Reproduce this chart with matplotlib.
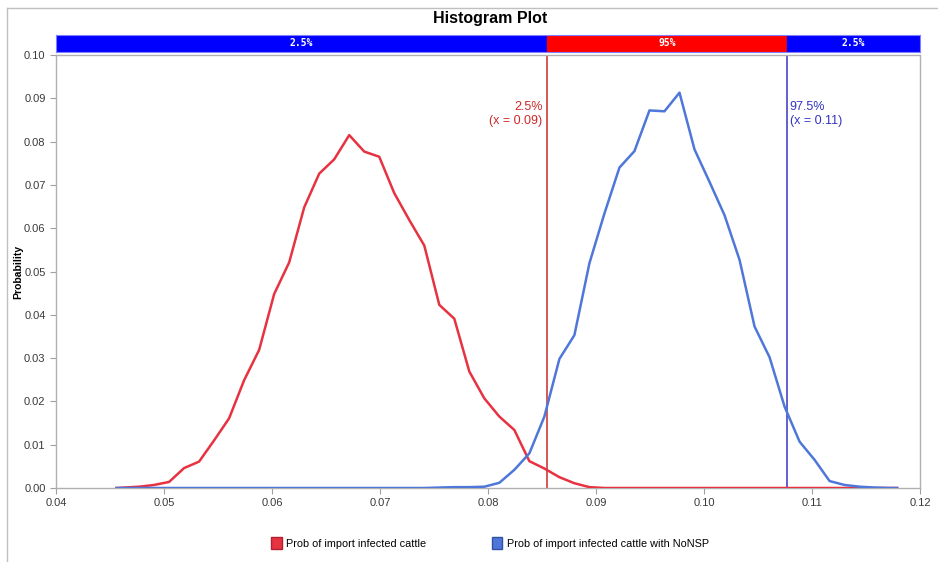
import matplotlib
matplotlib.use("Agg")
import matplotlib.pyplot as plt
from matplotlib.patches import Patch
from matplotlib.lines import Line2D

# ---- data ----
bin_x = [0.04560,
         0.04630, 0.04769, 0.04908, 0.05047, 0.05186, 0.05325, 0.05464, 0.05603,
         0.05742, 0.05881, 0.06020, 0.06159, 0.06298, 0.06437, 0.06576, 0.06715,
         0.06854, 0.06993, 0.07132, 0.07271, 0.07410, 0.07549, 0.07688, 0.07827,
         0.07966, 0.08105, 0.08244, 0.08383, 0.08522, 0.08661, 0.08800, 0.08939,
         0.09078, 0.09217, 0.09356, 0.09495, 0.09634, 0.09773, 0.09912, 0.10051,
         0.10190, 0.10329, 0.10468, 0.10607, 0.10746, 0.10885, 0.11024, 0.11163,
         0.11302, 0.11441, 0.11580, 0.11719,
         0.11788]

red_prob = [0.0,
            0.0001, 0.0003, 0.0007, 0.0014, 0.0046, 0.0061, 0.0110, 0.0161,
            0.0249, 0.0319, 0.0448, 0.0521, 0.0648, 0.0726, 0.0759, 0.0815,
            0.0777, 0.0765, 0.0681, 0.0619, 0.0560, 0.0423, 0.0391, 0.0269,
            0.0207, 0.0165, 0.0134, 0.0062, 0.0045, 0.0025, 0.0011, 0.0002,
            0.0, 0.0, 0.0, 0.0, 0.0, 0.0, 0.0, 0.0,
            0.0, 0.0, 0.0, 0.0, 0.0, 0.0, 0.0, 0.0,
            0.0, 0.0, 0.0, 0.0,
            0.0]

blue_prob = [0.0,
             0.0, 0.0, 0.0, 0.0, 0.0, 0.0, 0.0, 0.0,
             0.0, 0.0, 0.0, 0.0, 0.0, 0.0, 0.0, 0.0,
             0.0, 0.0, 0.0, 0.0, 0.0, 0.0001, 0.0002, 0.0002,
             0.0003, 0.0012, 0.0042, 0.0080, 0.0165, 0.0298, 0.0353, 0.0519,
             0.0634, 0.0740, 0.0778, 0.0872, 0.0870, 0.0913, 0.0782, 0.0707,
             0.0630, 0.0527, 0.0373, 0.0302, 0.0188, 0.0107, 0.0065, 0.0016,
             0.0007, 0.0003, 0.0001, 0.0,
             0.0]

series_names = ["Prob of import infected cattle",
                "Prob of import infected cattle with NoNSP"]
pct_lower = 0.08545
pct_upper = 0.10772
pct_lower_label = "2.5%\n(x = 0.09)"
pct_upper_label = "97.5%\n(x = 0.11)"
band_labels = ["2.5%", "95%", "2.5%"]
x_ticks = [0.04, 0.05, 0.06, 0.07, 0.08, 0.09, 0.10, 0.11, 0.12]
y_ticks = [0.00, 0.01, 0.02, 0.03, 0.04, 0.05, 0.06, 0.07, 0.08, 0.09, 0.10]

# ---- styling ----
RED = "#e63241"
BLUE = "#4f77d9"
plt.rcParams['font.family'] = ['Liberation Sans Narrow', 'Liberation Sans', 'DejaVu Sans']

W, H = 938, 562
fig = plt.figure(figsize=(W / 100, H / 100), dpi=100)

def fx(px):
    return px / W

def fy(py):
    return 1 - py / H

left, right, top, bottom = 56, 920, 55, 488
ax = fig.add_axes([fx(left), fy(bottom), fx(right - left), fy(top) - fy(bottom)])

ax.plot(bin_x, red_prob, color=RED, lw=1.8, zorder=3)
ax.plot(bin_x, blue_prob, color=BLUE, lw=1.8, zorder=3)
ax.axvline(pct_lower, color="#cc2a2a", lw=1.1, zorder=2)
ax.axvline(pct_upper, color="#3434c4", lw=1.1, zorder=2)

ax.set_xlim(x_ticks[0], x_ticks[-1])
ax.set_ylim(y_ticks[0], y_ticks[-1])
ax.set_xticks(x_ticks)
ax.set_xticklabels([f"{v:.2f}" for v in x_ticks])
ax.set_yticks(y_ticks)
ax.set_yticklabels([f"{v:.2f}" for v in y_ticks])
ax.tick_params(axis='both', labelsize=8, colors="#a0a0a0", labelcolor="#3a3a3a",
               length=4, width=0.8, direction='out')
for s in ax.spines.values():
    s.set_color("#b0b0b0")
    s.set_linewidth(1.0)

ax.set_ylabel("Probability", fontsize=7.5, fontweight='bold')
ax.yaxis.set_label_coords(-0.038, 0.5)

ax.text(pct_lower - 0.0004, 0.0893, pct_lower_label, color="#cc2a2a", fontsize=9,
        ha='right', va='top', linespacing=1.15)
ax.text(pct_upper + 0.0002, 0.0893, pct_upper_label, color="#3434c4", fontsize=9,
        ha='left', va='top', linespacing=1.15)

# ---- percentile band on top ----
bax = fig.add_axes([fx(left), fy(52), fx(right - left), fy(35) - fy(52)])
bax.set_xlim(x_ticks[0], x_ticks[-1])
bax.set_ylim(0, 1)
bounds = [x_ticks[0], pct_lower, pct_upper, x_ticks[-1]]
band_cols = ["#0000ff", "#ff0000", "#0000ff"]
for i in range(3):
    bax.axvspan(bounds[i], bounds[i + 1], color=band_cols[i])
    bax.text((bounds[i] + bounds[i + 1]) / 2, 0.5, band_labels[i], color="white",
             fontsize=7, fontweight='bold', family=['DejaVu Sans Mono'],
             ha='center', va='center')
bax.set_xticks([])
bax.set_yticks([])
for s in bax.spines.values():
    s.set_color("#8080ff")
    s.set_linewidth(0.8)

fig.text(fx(490), fy(18), "Histogram Plot", fontsize=11.5, fontweight='bold',
         ha='center', va='center')

handles = [Patch(facecolor=RED, edgecolor="#b02030", label=series_names[0]),
           Patch(facecolor=BLUE, edgecolor="#3050a0", label=series_names[1])]
fig.legend(handles=handles, loc='center', bbox_to_anchor=(fx(490), fy(543)), ncol=2,
           frameon=False, fontsize=7.8, handlelength=1.0, handleheight=1.3,
           handletextpad=0.4, columnspacing=6.0)

# outer frame lines (left and top only, as in the reference)
fig.add_artist(Line2D([fx(7), fx(7)], [fy(8), 0], transform=fig.transFigure,
                      color="#c0c0c0", lw=1.0))
fig.add_artist(Line2D([fx(7), 1], [fy(8), fy(8)], transform=fig.transFigure,
                      color="#c0c0c0", lw=1.0))

fig.savefig("out.png", dpi=100)
